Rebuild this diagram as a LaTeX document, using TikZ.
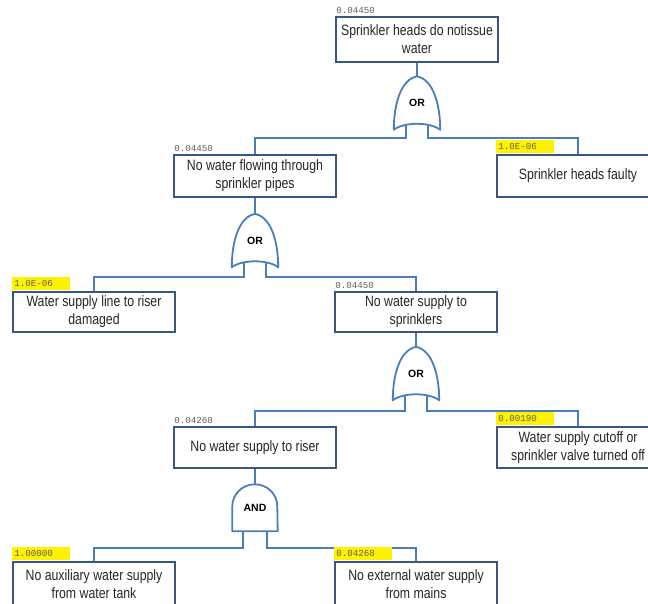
\documentclass[tikz,border=0pt]{standalone}
\usepackage{fontspec}
\usepackage{xcolor}
\usepackage{tikz}
\setmainfont{Liberation Sans}
\newfontfamily\boxfont[FakeStretch=0.82]{Liberation Sans}
\newfontfamily\probfont{Liberation Mono}
\usetikzlibrary{positioning,calc}

\definecolor{boxline}{RGB}{56,87,125}
\definecolor{wireblue}{RGB}{74,126,187}
\definecolor{probgray}{RGB}{95,95,95}

\begin{document}
\begin{tikzpicture}[
    x=1pt, y=1pt,
    box/.style={
        draw=boxline,
        line width=1.8pt,
        minimum width=162pt,
        minimum height=42pt,
        inner sep=2pt,
        align=center,
        text=black!85,
        font=\boxfont\fontsize{15}{18}\selectfont
    },
    gate/.style={
        minimum width=46pt,
        minimum height=53pt,
        inner sep=0pt,
        font=\bfseries\fontsize{10.5}{12}\selectfont
    },
    andgate/.style={gate, minimum width=45pt, minimum height=47pt},
    gateline/.style={draw=wireblue, line width=1.8pt, line join=round},
    orpath/.style={insert path={
        (#1.south west) .. controls +(0,26) and +(-16,-3) .. (#1.north)
        .. controls +(16,-3) and +(0,26) .. (#1.south east)
        .. controls +(-10,8) and +(10,8) .. (#1.south west) -- cycle}},
    andpath/.style={insert path={
        (#1.south west) -- ++(0,25)
        arc[start angle=180, end angle=0, x radius=22.5, y radius=22]
        -- (#1.south east) -- cycle}},
    wire/.style={draw=wireblue, line width=1.8pt},
    prob/.style={
        anchor=south west,
        inner sep=1pt,
        yshift=0.9pt,
        text=probgray,
        font=\probfont\fontsize{9.2}{10}\selectfont
    },
    hl/.style={prob, fill=yellow, text width=54pt, align=left,
        inner sep=2pt, minimum height=13pt}
]
\useasboundingbox[fill=white] (0,0) rectangle (648,-603);

% events
\node[box, minimum height=45pt] (top) at (417,-39.5) {Sprinkler heads do notissue\\water};
\node[box] (flow) at (255,-176) {No water flowing through\\sprinkler pipes};
\node[box] (heads) at (578,-176) {Sprinkler heads faulty};
\node[box, minimum height=40pt] (line) at (94,-312) {Water supply line to riser\\damaged};
\node[box, minimum height=40pt] (supply) at (416,-312) {No water supply to\\sprinklers};
\node[box, minimum height=41pt] (riser) at (255,-447.5) {No water supply to riser};
\node[box, minimum height=41pt] (valve) at (578,-447.5) {Water supply cutoff or\\sprinkler valve turned off};
\node[box, minimum height=44pt] (tank) at (94,-584) {No auxiliary water supply\\from water tank};
\node[box, minimum height=44pt] (mains) at (416,-584) {No external water supply\\from mains};

% gates
\node[gate, below=13.5pt of top] (or1) {OR};
\node[gate, below=16pt of flow] (or2) {OR};
\node[gate, below=14pt of supply] (or3) {OR};
\node[andgate, below=15pt of riser] (and1) {AND};

\draw[gateline, orpath=or1];
\draw[gateline, orpath=or2];
\draw[gateline, orpath=or3];
\draw[gateline, andpath=and1];

% connectors
\draw[wire] (top) -- (or1);
\draw[wire] ([xshift=-11pt,yshift=4.5pt]or1.south) -- ++(0,-13) -| (flow.north);
\draw[wire] ([xshift=11pt,yshift=4.5pt]or1.south) -- ++(0,-13) -| (heads.north);
\draw[wire] (flow) -- (or2);
\draw[wire] ([xshift=-11pt,yshift=4.5pt]or2.south) -- ++(0,-14.5) -| (line.north);
\draw[wire] ([xshift=11pt,yshift=4.5pt]or2.south) -- ++(0,-14.5) -| (supply.north);
\draw[wire] (supply) -- (or3);
\draw[wire] ([xshift=-11pt,yshift=4.5pt]or3.south) -- ++(0,-15.5) -| (riser.north);
\draw[wire] ([xshift=11pt,yshift=4.5pt]or3.south) -- ++(0,-15.5) -| (valve.north);
\draw[wire] (riser) -- (and1);
\draw[wire] ([xshift=-12pt]and1.south) -- ++(0,-16.5) -| (tank.north);
\draw[wire] ([xshift=12pt]and1.south) -- ++(0,-16.5) -| (mains.north);

% probabilities
\node[prob] (ptop) at (top.north west) {0.04450};
\node[prob] (pflow) at (flow.north west) {0.04450};
\node[hl] (pheads) at (heads.north west) {1.0E-06};
\node[hl] (pline) at (line.north west) {1.0E-06};
\node[prob] (psupply) at (supply.north west) {0.04450};
\node[prob] (priser) at (riser.north west) {0.04268};
\node[hl] (pvalve) at (valve.north west) {0.00190};
\node[hl] (ptank) at (tank.north west) {1.00000};
\node[hl] (pmains) at (mains.north west) {0.04268};
\end{tikzpicture}
\end{document}
